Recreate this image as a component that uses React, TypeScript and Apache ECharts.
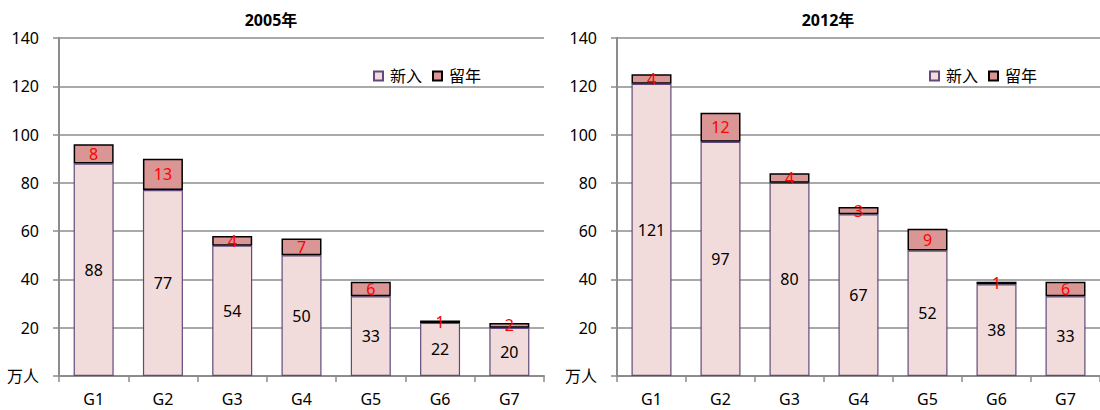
import React, { useEffect, useRef } from "react";
import * as echarts from "echarts";

const categories = ["G1", "G2", "G3", "G4", "G5", "G6", "G7"];
const titles = ["2005年", "2012年"];
const seriesNames = ["新入", "留年"];
const new2005 = [88, 77, 54, 50, 33, 22, 20];
const repeat2005 = [8, 13, 4, 7, 6, 1, 2];
const new2012 = [121, 97, 80, 67, 52, 38, 33];
const repeat2012 = [4, 12, 4, 3, 9, 1, 6];
const yMin = 0;
const yMax = 140;
const yInterval = 20;
const yUnit = "万人";

const FONT = "'Noto Sans', 'Noto Sans CJK SC', sans-serif";
const GRID_COLOR = "#8c8c8c";
const NEW_FILL = "#F2DCDB";
const NEW_BORDER = "#604A7B";
const REP_FILL = "#D99694";

export default function App() {
  const ref = useRef<HTMLDivElement>(null);
  useEffect(() => {
    if (!ref.current) return;
    const chart = echarts.init(ref.current, null, { renderer: "svg" });
    const grids = [
      { left: 59, top: 38, width: 485, height: 338 },
      { left: 617, top: 38, width: 484, height: 338 },
    ];
    const mkX = (i: number) => ({
      type: "category",
      gridIndex: i,
      data: categories,
      axisLine: { lineStyle: { color: GRID_COLOR, width: 2 } },
      axisTick: { show: true, length: 6, lineStyle: { color: GRID_COLOR, width: 1.5 } },
      axisLabel: { color: "#000", fontSize: 16, fontFamily: FONT, margin: 15 },
    });
    const mkY = (i: number) => ({
      type: "value",
      gridIndex: i,
      min: yMin,
      max: yMax,
      interval: yInterval,
      axisLine: { show: true, lineStyle: { color: GRID_COLOR, width: 2 } },
      axisTick: { show: true, length: 6, lineStyle: { color: GRID_COLOR, width: 1.5 } },
      splitLine: { show: true, lineStyle: { color: GRID_COLOR, width: 1.5 } },
      axisLabel: {
        color: "#000",
        fontSize: 16,
        fontFamily: FONT,
        margin: 20,
        formatter: (v: number) => (v === 0 ? yUnit : String(v)),
      },
    });
    const mkSeries = (i: number, newVals: number[], repVals: number[]) => [
      {
        name: seriesNames[0],
        type: "bar",
        stack: "s" + i,
        xAxisIndex: i,
        yAxisIndex: i,
        data: newVals,
        barWidth: 40,
        itemStyle: { color: NEW_FILL, borderColor: NEW_BORDER, borderWidth: 1.2 },
        label: { show: true, position: "inside", color: "#000", fontSize: 16, fontFamily: FONT },
      },
      {
        name: seriesNames[1],
        type: "bar",
        stack: "s" + i,
        xAxisIndex: i,
        yAxisIndex: i,
        data: repVals,
        barWidth: 40,
        itemStyle: { color: REP_FILL, borderColor: "#000", borderWidth: 1.5 },
        label: { show: true, position: "inside", color: "#FF0000", fontSize: 16, fontFamily: FONT },
      },
    ];
    const mkLegend = (left: number) => ({
      left,
      top: 63,
      itemWidth: 9,
      itemHeight: 9,
      itemGap: 10,
      icon: "rect",
      data: seriesNames,
      textStyle: { color: "#000", fontSize: 16, fontFamily: FONT, padding: [0, 0, 0, 2] },
    });
    chart.setOption({
      animation: false,
      title: [
        {
          text: titles[0],
          left: 266,
          top: 7,
          textAlign: "center",
          textStyle: { fontSize: 16, fontWeight: "bold", color: "#000", fontFamily: FONT },
        },
        {
          text: titles[1],
          left: 823,
          top: 7,
          textAlign: "center",
          textStyle: { fontSize: 16, fontWeight: "bold", color: "#000", fontFamily: FONT },
        },
      ],
      legend: [mkLegend(368), mkLegend(924)],
      grid: grids,
      xAxis: [mkX(0), mkX(1)],
      yAxis: [mkY(0), mkY(1)],
      series: [...mkSeries(0, new2005, repeat2005), ...mkSeries(1, new2012, repeat2012)],
    });
    return () => chart.dispose();
  }, []);
  return (
    <div
      ref={ref}
      style={{ position: "absolute", left: 0, top: 0, width: 1100, height: 410, background: "#fff" }}
    />
  );
}
